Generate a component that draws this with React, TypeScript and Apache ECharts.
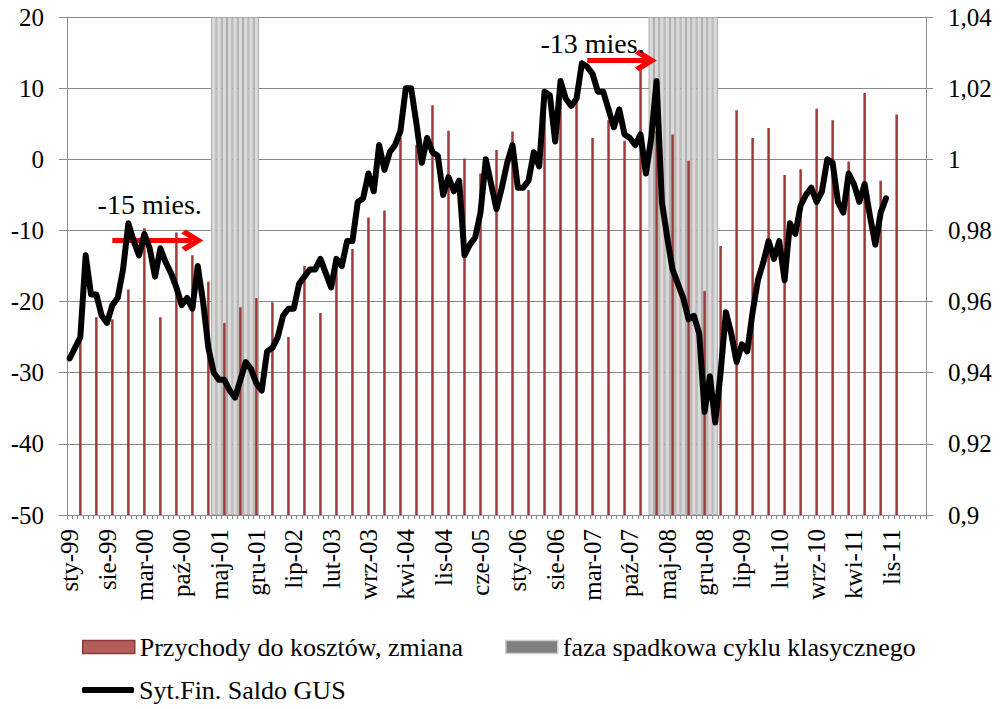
import React, { useEffect, useRef } from "react";
import * as echarts from "echarts";

const FONT = "'Liberation Serif', 'Times New Roman', serif";

// Category axis: monthly, from Jan 1999
const MONTH_NAMES = ["sty", "lut", "mar", "kwi", "maj", "cze", "lip", "sie", "wrz", "paź", "lis", "gru"];
const FIRST_YEAR = 1999;
const MONTH_COUNT = 161;
const categories: string[] = [];
for (let i = 0; i < MONTH_COUNT; i++) {
  const y = FIRST_YEAR + Math.floor(i / 12);
  categories.push(`${MONTH_NAMES[i % 12]}-${String(y % 100).padStart(2, "0")}`);
}

const BAR_NAME = "Przychody do kosztów, zmiana";
const SHADE_NAME = "faza spadkowa cyklu klasycznego";
const LINE_NAME = "Syt.Fin. Saldo GUS";

// Left axis range
const LEFT_MIN = -50;
const LEFT_MAX = 20;
const LEFT_STEP = 10;

// Quarterly values (first at mar-99, every 3 months)
const BAR_FIRST = "mar-99";
const BAR_STEP = 3;
const revenueCostChange = [
  -25, -22.2, -22.5, -18.3, -9.7, -22.2, -10.3, -13.5, -17.2, -23.0,
  -20.8, -19.5, -20.1, -25.0, -15.0, -21.6, -15.5, -12.6, -8.2, -7.2,
  3.0, 2.0, 7.6, 4.0, 0.1, -2.0, 1.3, 3.9, -4.3, 7.0,
  8.0, 8.5, 3.0, 5.5, 2.6, 12.5, 4.0, 3.5, -0.2, -18.5,
  -12.2, 6.9, 3.0, 4.4, -2.2, -1.4, 7.1, 5.5, -0.3, 9.3,
  -3.0, 6.3,
];

// Downturn phases of the classical cycle (inclusive)
const downturnPhases: [string, string][] = [
  ["kwi-01", "gru-01"],
  ["lut-08", "lut-09"],
];

// Monthly GUS balance (right axis), from sty-99
const gusBalance = [
  0.944, 0.947, 0.950, 0.973, 0.962, 0.962, 0.956, 0.954, 0.959, 0.961,
  0.969, 0.982, 0.977, 0.973, 0.979, 0.975, 0.967, 0.975, 0.971, 0.968,
  0.964, 0.959, 0.961, 0.958, 0.970, 0.960, 0.947, 0.940, 0.938, 0.938,
  0.935, 0.933, 0.938, 0.943, 0.941, 0.937, 0.935, 0.946, 0.947, 0.950,
  0.956, 0.958, 0.958, 0.965, 0.967, 0.969, 0.969, 0.972, 0.968, 0.964,
  0.972, 0.970, 0.977, 0.977, 0.988, 0.989, 0.996, 0.991, 1.004, 0.997,
  1.002, 1.004, 1.008, 1.020, 1.020, 1.010, 0.999, 1.006, 1.002, 1.001,
  0.990, 0.995, 0.991, 0.994, 0.973, 0.976, 0.978, 0.985, 1.000, 0.993,
  0.986, 0.992, 0.999, 1.004, 0.992, 0.992, 0.994, 1.002, 0.998, 1.019,
  1.018, 1.005, 1.022, 1.017, 1.015, 1.017, 1.027, 1.026, 1.024, 1.019,
  1.019, 1.014, 1.009, 1.014, 1.007, 1.006, 1.004, 1.007, 0.996, 1.006,
  1.022, 0.988, 0.978, 0.969, 0.965, 0.961, 0.955, 0.956, 0.951, 0.929,
  0.939, 0.926, 0.940, 0.957, 0.951, 0.943, 0.948, 0.946, 0.957, 0.966,
  0.971, 0.977, 0.972, 0.977, 0.966, 0.982, 0.979, 0.987, 0.990, 0.992,
  0.988, 0.991, 1.000, 0.999, 0.988, 0.985, 0.996, 0.993, 0.988, 0.993,
  0.984, 0.976, 0.985, 0.989,
];

// Annotations (lead arrows), in right-axis units
const leadArrows = [
  { text: "-15 mies.", from: "wrz-99", to: "gru-00", level: 0.9772, textAt: "kwi-00", textLevel: 0.9872 },
  { text: "-13 mies.", from: "lut-07", to: "sty-08", level: 1.0278, textAt: "mar-07", textLevel: 1.0326 },
];

const CHEVRON = "path://M0,17 L11,0 L22,17 L18,21 L11,10 L4,21 Z";

export default function App() {
  const ref = useRef<HTMLDivElement>(null);

  useEffect(() => {
    if (!ref.current) return;
    const chart = echarts.init(ref.current, undefined, { renderer: "svg" });

    const barStart = categories.indexOf(BAR_FIRST);
    const barData: (number | null)[] = categories.map(() => null);
    revenueCostChange.forEach((v, k) => {
      barData[barStart + k * BAR_STEP] = v - LEFT_MIN;
    });

    const shadeData: (number | null)[] = categories.map(() => null);
    downturnPhases.forEach(([a, b]) => {
      const s = categories.indexOf(a);
      const e = categories.indexOf(b);
      for (let i = s; i <= e; i++) shadeData[i] = LEFT_MAX - LEFT_MIN;
    });

    const grey = "#8a8a8a";
    const axisText = { fontSize: 25, color: "#000", fontFamily: FONT };

    const option: any = {
      animation: false,
      textStyle: { fontFamily: FONT },
      grid: { left: 67, right: 77, top: 17, bottom: 194, containLabel: false },
      legend: [
        {
          data: [
            { name: BAR_NAME, itemStyle: { color: "#b35e5b", borderColor: "#8c3a38", borderWidth: 1.5 } },
            { name: SHADE_NAME, itemStyle: { color: "#808080", borderColor: "#cfcfcf", borderWidth: 1.5 } },
          ],
          left: 82,
          top: 634,
          padding: 0,
          icon: "rect",
          itemWidth: 52,
          itemHeight: 13,
          itemGap: 42,
          selectedMode: false,
          textStyle: { fontSize: 26, color: "#000", fontFamily: FONT },
        },
        {
          data: [{ name: LINE_NAME, icon: "roundRect", itemStyle: { color: "#000" } }],
          left: 82,
          top: 677,
          padding: 0,
          itemWidth: 52,
          itemHeight: 6,
          selectedMode: false,
          textStyle: { fontSize: 26, color: "#000", fontFamily: FONT },
        },
      ],
      xAxis: [
        {
          type: "category",
          data: categories,
          boundaryGap: true,
          axisLine: { show: true, lineStyle: { color: grey, width: 1 } },
          axisTick: { show: true, interval: 0, length: 4, lineStyle: { color: grey } },
          axisLabel: { ...axisText, interval: 6, rotate: 90, margin: 14 },
          splitLine: { show: false },
        },
        { type: "category", data: categories, boundaryGap: true, show: false },
      ],
      yAxis: [
        {
          type: "value",
          position: "left",
          min: 0,
          max: LEFT_MAX - LEFT_MIN,
          interval: LEFT_STEP,
          axisLine: { show: true, lineStyle: { color: grey } },
          axisTick: { show: true, length: 8, lineStyle: { color: grey } },
          axisLabel: { ...axisText, margin: 23, formatter: (v: number) => String(Math.round(v + LEFT_MIN)) },
          splitLine: { show: true, lineStyle: { color: grey, width: 1 } },
        },
        {
          type: "value",
          position: "right",
          min: 0.9,
          max: 1.04,
          interval: 0.02,
          axisLine: { show: true, lineStyle: { color: grey } },
          axisTick: { show: true, length: 7, lineStyle: { color: grey } },
          axisLabel: {
            ...axisText,
            margin: 22,
            formatter: (v: number) => String(Number(v.toFixed(2))).replace(".", ","),
          },
          splitLine: { show: false },
        },
      ],
      series: [
        {
          name: SHADE_NAME,
          type: "bar",
          xAxisIndex: 1,
          yAxisIndex: 0,
          data: shadeData,
          barWidth: "100%",
          barCategoryGap: 0,
          itemStyle: { color: "#dadada", borderColor: "#ababab", borderWidth: 1 },
          z: 1,
          silent: true,
        },
        {
          name: BAR_NAME,
          type: "bar",
          xAxisIndex: 0,
          yAxisIndex: 0,
          data: barData,
          barWidth: 2.5,
          itemStyle: { color: "#9b3b3b" },
          z: 2,
          silent: true,
        },
        {
          name: LINE_NAME,
          type: "line",
          xAxisIndex: 0,
          yAxisIndex: 1,
          data: gusBalance,
          symbol: "none",
          showSymbol: false,
          lineStyle: { color: "#000", width: 6, join: "round", cap: "round" },
          itemStyle: { color: "#000" },
          z: 5,
          silent: true,
          markLine: {
            silent: true,
            symbol: ["none", CHEVRON],
            symbolSize: [22, 22],
            lineStyle: { color: "#ff0000", width: 5, type: "solid" },
            itemStyle: { color: "#ff0000" },
            label: { show: false },
            data: leadArrows.map((a) => [
              { coord: [a.from, a.level] },
              { coord: [a.to, a.level] },
            ]),
          },
          markPoint: {
            silent: true,
            symbol: "circle",
            symbolSize: 1,
            itemStyle: { color: "transparent" },
            label: {
              show: true,
              position: "inside",
              color: "#000",
              fontSize: 28,
              fontFamily: FONT,
              formatter: (p: any) => p.name,
            },
            data: leadArrows.map((a) => ({ name: a.text, coord: [a.textAt, a.textLevel] })),
          },
        },
      ],
    };

    chart.setOption(option);
    return () => chart.dispose();
  }, []);

  return (
    <div
      ref={ref}
      style={{ position: "fixed", left: 0, top: 0, width: 1003, height: 709, background: "#fff" }}
    />
  );
}
